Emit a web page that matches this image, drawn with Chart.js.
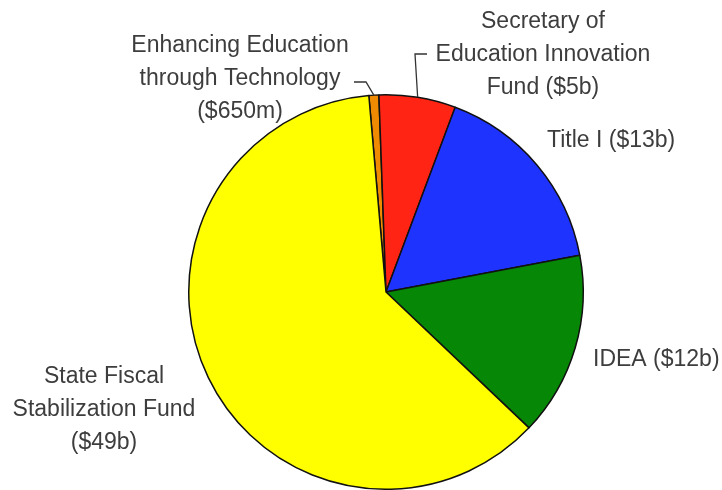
<!DOCTYPE html>
<html>
<head>
<meta charset="utf-8">
<script src="https://cdn.jsdelivr.net/npm/chart.js@4.4.1/dist/chart.umd.min.js"></script>
<style>
  html, body { margin: 0; padding: 0; background: #fff; }
  #wrap { width: 722px; height: 490px; position: relative; }
</style>
</head>
<body>
<div id="wrap"><canvas id="myChart"></canvas></div>
<script>
// data (billions of dollars)
var categories = [
  'Enhancing Education through Technology',
  'Secretary of Education Innovation Fund',
  'Title I',
  'IDEA',
  'State Fiscal Stabilization Fund'
];
var amounts = [0.65, 5, 13, 12, 49];
var amountLabels = ['($650m)', '($5b)', '($13b)', '($12b)', '($49b)'];
var sliceColors = ['#f08a00', '#ff2414', '#1f33ff', '#068806', '#ffff00'];

// where each label goes (text lines, anchor, alignment, leader elbow)
var labelLayout = [
  { lines: ['Enhancing Education', 'through Technology', amountLabels[0]],
    x: 240, y: 52, align: 'center', leader: [[366, 82], [354, 82]] },
  { lines: ['Secretary of', 'Education Innovation', 'Fund ' + amountLabels[1]],
    x: 543, y: 28, align: 'center', leader: [[415, 54], [427, 54]] },
  { lines: ['Title I ' + amountLabels[2]],
    x: 547, y: 147, align: 'left', leader: null },
  { lines: ['IDEA ' + amountLabels[3]],
    x: 593, y: 366, align: 'left', leader: null },
  { lines: ['State Fiscal', 'Stabilization Fund', amountLabels[4]],
    x: 104, y: 383, align: 'center', leader: null }
];

var pieLabels = {
  id: 'pieLabels',
  afterDraw: function (chart) {
    var ctx = chart.ctx;
    var arcs = chart.getDatasetMeta(0).data;
    ctx.save();
    ctx.font = '23px "Liberation Sans", Arial, sans-serif';
    ctx.fillStyle = '#3d3d3d';
    ctx.textBaseline = 'alphabetic';
    labelLayout.forEach(function (lab, i) {
      var arc = arcs[i];
      var p = arc.getProps(['x', 'y', 'startAngle', 'endAngle', 'outerRadius'], true);
      var mid = (p.startAngle + p.endAngle) / 2;
      if (lab.leader) {
        ctx.beginPath();
        ctx.strokeStyle = '#333';
        ctx.lineWidth = 1.3;
        ctx.moveTo(p.x + Math.cos(mid) * p.outerRadius, p.y + Math.sin(mid) * p.outerRadius);
        lab.leader.forEach(function (pt) { ctx.lineTo(pt[0], pt[1]); });
        ctx.stroke();
      }
      ctx.textAlign = lab.align;
      lab.lines.forEach(function (line, k) {
        ctx.fillText(line, lab.x, lab.y + k * 33);
      });
    });
    ctx.restore();
  }
};

var ctx = document.getElementById('myChart');
var myChart = new Chart(ctx, {
  type: 'pie',
  data: {
    labels: categories,
    datasets: [{
      data: amounts,
      backgroundColor: sliceColors,
      borderColor: '#111',
      borderWidth: 1.5
    }]
  },
  options: {
    responsive: true,
    maintainAspectRatio: false,
    animation: false,
    rotation: -5,
    layout: { padding: { left: 188, right: 138, top: 94, bottom: 0 } },
    plugins: {
      legend: { display: false },
      tooltip: { enabled: false }
    }
  },
  plugins: [pieLabels]
});
</script>
</body>
</html>
